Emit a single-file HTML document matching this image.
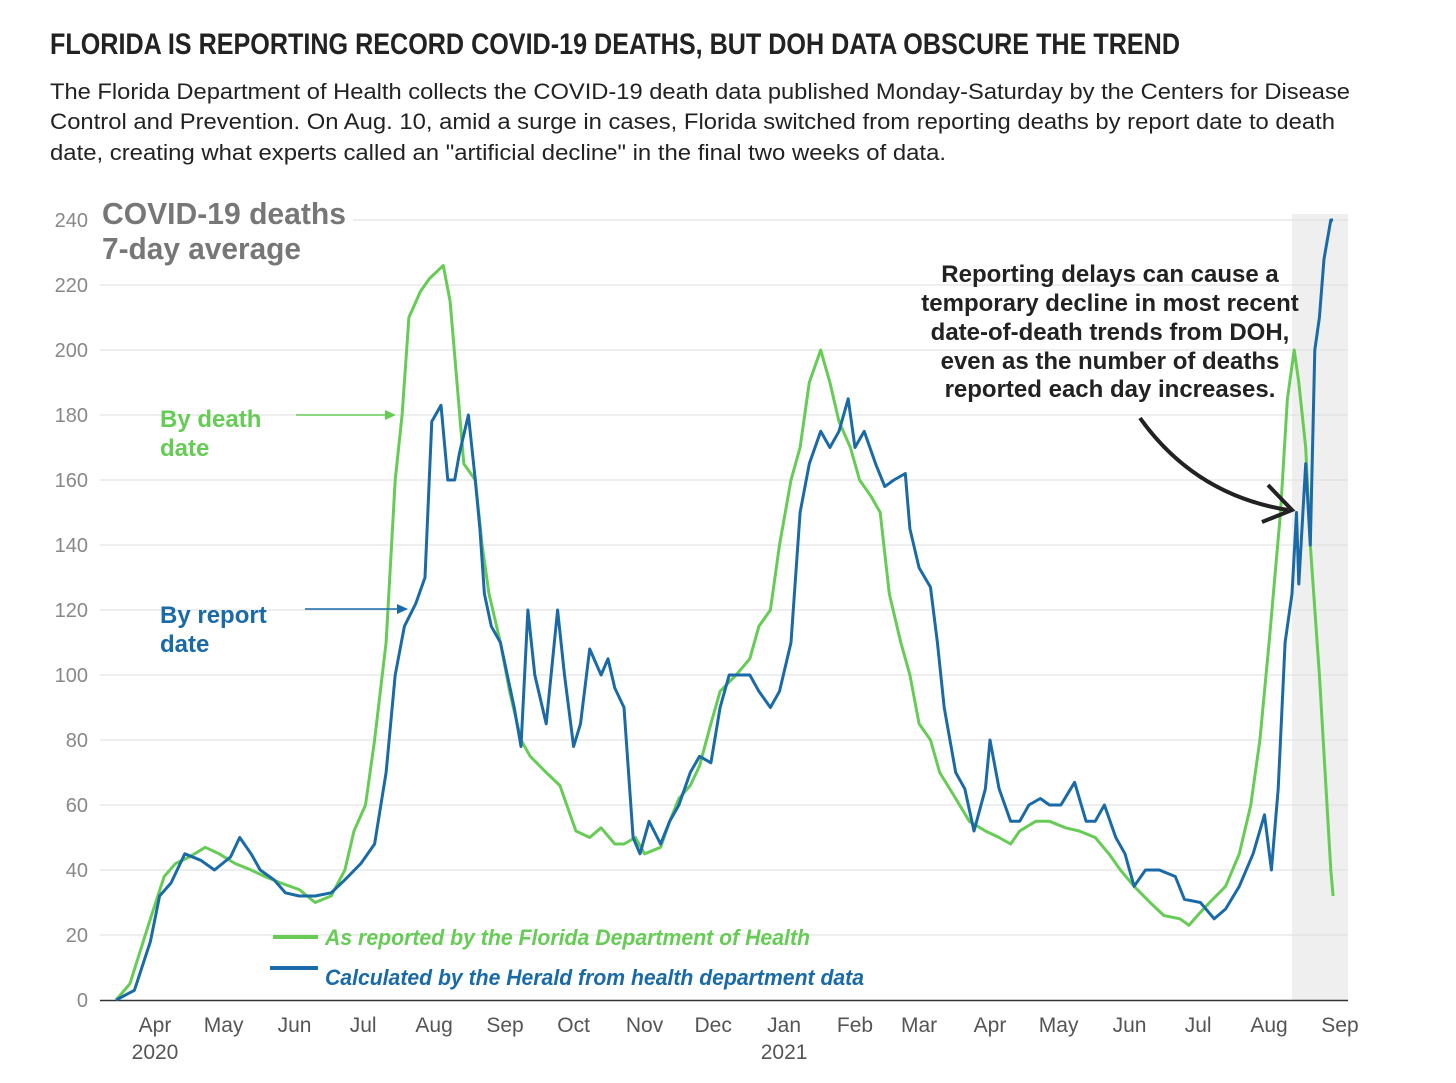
<!DOCTYPE html>
<html><head><meta charset="utf-8"><style>
body{margin:0;background:#fff;}
svg{display:block;font-family:"Liberation Sans",sans-serif;}
</style></head><body>
<svg id="chart" width="1456" height="1083" viewBox="0 0 1456 1083">
<text x="50" y="54" font-family="'Liberation Sans Narrow','Liberation Sans',sans-serif" font-weight="bold" font-size="30" fill="#222" textLength="1130" lengthAdjust="spacingAndGlyphs">FLORIDA IS REPORTING RECORD COVID-19 DEATHS, BUT DOH DATA OBSCURE THE TREND</text>
<g font-size="22" fill="#222">
<text x="50" y="99" textLength="1300" lengthAdjust="spacingAndGlyphs">The Florida Department of Health collects the COVID-19 death data published Monday-Saturday by the Centers for Disease</text>
<text x="50" y="129" textLength="1285" lengthAdjust="spacingAndGlyphs">Control and Prevention. On Aug. 10, amid a surge in cases, Florida switched from reporting deaths by report date to death</text>
<text x="50" y="160" textLength="896" lengthAdjust="spacingAndGlyphs">date, creating what experts called an "artificial decline" in the final two weeks of data.</text>
</g>
<rect x="1292" y="214" width="56" height="786" fill="#efefef"/>
<g id="grid"></g>
<g id="yticks"></g>
<g id="xticks"></g>
<line x1="100" y1="1000.5" x2="1348" y2="1000.5" stroke="#333" stroke-width="1.5"/>
<rect x="98" y="194" width="255" height="80" fill="#fff"/>
<g font-weight="bold" font-size="31" fill="#777">
<text x="102" y="224" textLength="244" lengthAdjust="spacingAndGlyphs">COVID-19 deaths</text>
<text x="102" y="259" textLength="199" lengthAdjust="spacingAndGlyphs">7-day average</text>
</g>
<path id="greenLine" fill="none" stroke="#66cc55" stroke-width="3" stroke-linejoin="round"/>
<path id="blueLine" fill="none" stroke="#1a6aa8" stroke-width="3" stroke-linejoin="round"/>
<g font-weight="bold" font-size="24" fill="#66cc55">
<text x="160" y="427">By death</text><text x="160" y="456">date</text>
</g>
<line x1="296" y1="415" x2="388" y2="415" stroke="#66cc55" stroke-width="1.5"/>
<path d="M396 415 L385 410 L385 420 Z" fill="#66cc55"/>
<g font-weight="bold" font-size="24" fill="#1a6aa8">
<text x="160" y="623">By report</text><text x="160" y="652">date</text>
</g>
<line x1="305" y1="609" x2="400" y2="609" stroke="#1a6aa8" stroke-width="1.5"/>
<path d="M408 609 L397 604 L397 614 Z" fill="#1a6aa8"/>
<g font-weight="bold" font-size="24" fill="#222" text-anchor="middle">
<text x="1110" y="282">Reporting delays can cause a</text>
<text x="1110" y="311">temporary decline in most recent</text>
<text x="1110" y="340">date-of-death trends from DOH,</text>
<text x="1110" y="369">even as the number of deaths</text>
<text x="1110" y="397">reported each day increases.</text>
</g>
<path d="M1140 418 Q1195 495 1288 510" fill="none" stroke="#222" stroke-width="4"/>
<path d="M1268 485 L1292 510 L1262 522" fill="none" stroke="#222" stroke-width="4"/>
<g>
<line x1="273" y1="937" x2="318" y2="937" stroke="#66cc55" stroke-width="4"/>
<text x="325" y="945" font-size="22" font-weight="bold" font-style="italic" fill="#66cc55" textLength="485" lengthAdjust="spacingAndGlyphs">As reported by the Florida Department of Health</text>
<line x1="270" y1="968" x2="318" y2="968" stroke="#1a6aa8" stroke-width="4"/>
<text x="325" y="985" font-size="22" font-weight="bold" font-style="italic" fill="#1a6aa8" textLength="539" lengthAdjust="spacingAndGlyphs">Calculated by the Herald from health department data</text>
</g>
</svg>
<script>
// days since 2020-03-01
const greenDays=[14,20,29,35,40,46,53,59,66,73,79,86,94,101,108,114,118,123,127,132,136,139,142,147,151,157,160,163,166,171,174,177,182,186,191,195,202,208,215,221,226,232,236,241,245,252,256,260,265,269,274,278,285,291,295,300,304,309,313,317,322,326,330,335,339,344,348,352,357,361,365,370,374,381,387,394,400,405,409,416,422,429,435,442,448,453,459,466,472,479,483,488,492,499,505,510,514,518,523,526,529,531,534,536,540,545,546];
const greenValues=[0,5,25,38,42,44,47,45,42,40,38,36,34,30,32,40,52,60,80,110,160,180,210,218,222,226,215,190,165,160,140,125,110,95,80,75,70,66,52,50,53,48,48,50,45,47,55,62,66,72,85,95,100,105,115,120,140,160,170,190,200,190,178,170,160,155,150,125,110,100,85,80,70,62,55,52,50,48,52,55,55,53,52,50,45,40,35,30,26,25,23,27,30,35,45,60,80,110,150,185,200,190,170,140,100,40,32];
const blueDays=[14,22,29,33,38,44,51,57,64,68,73,77,83,88,94,101,108,114,121,127,132,136,140,145,149,152,156,159,162,164,168,171,173,175,178,182,185,188,191,194,197,202,207,210,214,217,221,226,229,232,236,240,243,247,252,256,260,265,269,274,278,282,287,291,295,300,304,309,313,317,322,326,330,334,337,341,346,350,354,359,361,365,370,373,376,381,385,389,394,396,400,405,409,413,418,422,427,433,438,442,446,451,455,459,464,470,477,481,488,494,499,505,511,516,519,522,525,528,530,531,534,536,538,540,542,545,546];
const blueValues=[0,3,18,32,36,45,43,40,44,50,45,40,37,33,32,32,33,37,42,48,70,100,115,122,130,178,183,160,160,168,180,160,145,125,115,110,100,90,78,120,100,85,120,100,78,85,108,100,105,96,90,50,45,55,48,55,60,70,75,73,90,100,100,100,95,90,95,110,150,165,175,170,175,185,170,175,165,158,160,162,145,133,127,110,90,70,65,52,65,80,65,55,55,60,62,60,60,67,55,55,60,50,45,35,40,40,38,31,30,25,28,35,45,57,40,65,110,125,150,128,165,140,200,210,228,240,240];
const yTicks=[0,20,40,60,80,100,120,140,160,180,200,220,240];
const monthLabels=["Apr","May","Jun","Jul","Aug","Sep","Oct","Nov","Dec","Jan","Feb","Mar","Apr","May","Jun","Jul","Aug","Sep"];
const monthDays=[31,61,92,122,153,184,214,245,275,306,337,365,396,426,457,487,518,549];
const yearLabels=["2020",null,null,null,null,null,null,null,null,"2021",null,null,null,null,null,null,null,null];

const NS="http://www.w3.org/2000/svg";
const xS=d=>84.1+d*2.2876;
const yS=v=>1000-v*3.25;
const grid=document.getElementById('grid'),yt=document.getElementById('yticks'),xt=document.getElementById('xticks');
yTicks.forEach(v=>{
 if(v>0){const l=document.createElementNS(NS,'line');
 l.setAttribute('x1',100);l.setAttribute('x2',1348);l.setAttribute('y1',yS(v));l.setAttribute('y2',yS(v));
 l.setAttribute('stroke','#dddddd');l.setAttribute('stroke-width','1');
 
 
 grid.appendChild(l);}
 const t=document.createElementNS(NS,'text');
 t.setAttribute('x',88);t.setAttribute('y',yS(v)+7);t.setAttribute('text-anchor','end');
 t.setAttribute('font-size','20');t.setAttribute('fill','#888');t.textContent=v;
 
 
 yt.appendChild(t);
});
monthLabels.forEach((m,i)=>{
 const t=document.createElementNS(NS,'text');
 t.setAttribute('x',xS(monthDays[i]));t.setAttribute('y',1032);t.setAttribute('text-anchor','middle');
 t.setAttribute('font-size','21');t.setAttribute('fill','#555');t.textContent=m;
 
 
 xt.appendChild(t);
 if(yearLabels[i]){const y=document.createElementNS(NS,'text');
 y.setAttribute('x',xS(monthDays[i]));y.setAttribute('y',1059);y.setAttribute('text-anchor','middle');
 y.setAttribute('font-size','21');y.setAttribute('fill','#555');y.textContent=yearLabels[i];
 
 
 xt.appendChild(y);}
});
function pathD(ds,vs){return ds.map((d,i)=>(i?'L':'M')+xS(d).toFixed(1)+' '+yS(vs[i]).toFixed(1)).join(' ');}
document.getElementById('greenLine').setAttribute('d',pathD(greenDays,greenValues));
document.getElementById('blueLine').setAttribute('d',pathD(blueDays,blueValues));
</script>
</body></html>
